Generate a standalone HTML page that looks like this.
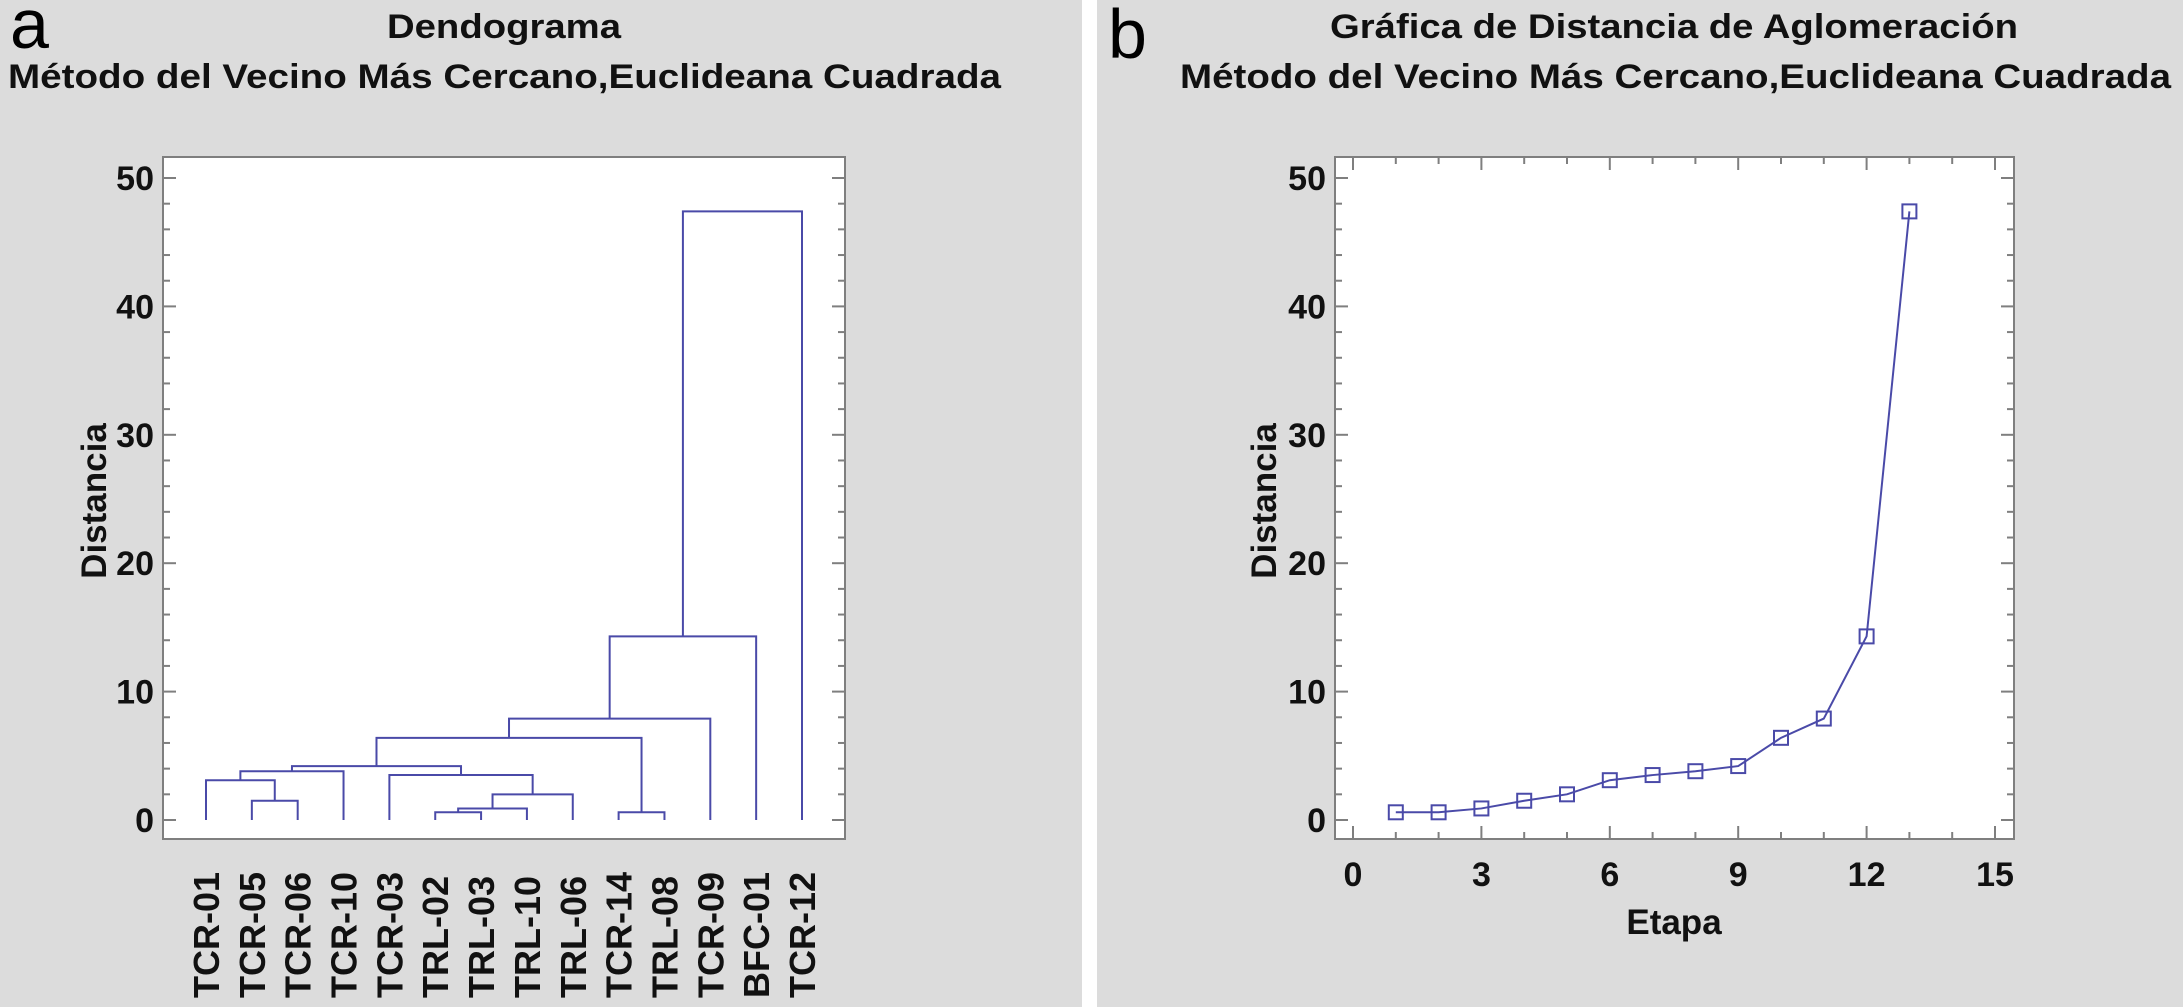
<!DOCTYPE html>
<html><head><meta charset="utf-8"><style>
html,body{margin:0;padding:0;background:#dcdcdc;}
svg{display:block;font-family:"Liberation Sans",sans-serif;}
</style></head><body>
<svg id="fig" width="2183" height="1007" viewBox="0 0 2183 1007" xmlns="http://www.w3.org/2000/svg">
<rect x="0" y="0" width="2183" height="1007" fill="#dcdcdc"/>
<rect x="1082" y="0" width="15" height="1007" fill="#ffffff"/>
<g id="pa"></g>
<g id="pb"></g>
</svg>
<script>
// ---- data ----
const leafLabels = ["TCR-01","TCR-05","TCR-06","TCR-10","TCR-03","TRL-02","TRL-03","TRL-10","TRL-06","TCR-14","TRL-08","TCR-09","BFC-01","TCR-12"];
// merges: children as "L<i>" for leaf, "N<j>" for earlier merge
const mergeLeft  = ["L5","L9","N0","L1","N2","L0","L4","N5","N7","N8","N9","N10","N11"];
const mergeRight = ["L6","L10","L7","L2","L8","N3","N4","L3","N6","N1","L11","L12","L13"];
const mergeHeight = [0.6,0.6,0.9,1.5,2.0,3.1,3.5,3.8,4.2,6.4,7.9,14.3,47.4];
const stages = [1,2,3,4,5,6,7,8,9,10,11,12,13];
const stageDist = [0.6,0.6,0.9,1.5,2.0,3.1,3.5,3.8,4.2,6.4,7.9,14.3,47.4];
const yTicks = [0,10,20,30,40,50];
const xTicksB = [0,3,6,9,12,15];

const NS="http://www.w3.org/2000/svg";
const LINE="#4a4aa8", FRAME="#7f7f7f";
function el(parent,tag,attrs,text){const e=document.createElementNS(NS,tag);for(const k in attrs)e.setAttribute(k,attrs[k]);if(text!==undefined)e.textContent=text;parent.appendChild(e);return e;}

const y0=820, y50=178;
function Y(v){return y0+(y50-y0)*v/50;}
const FT=157, FB=839;

function frame(g,L,R){
  const f=el(g,'rect',{x:L,y:FT,width:R-L,height:FB-FT,fill:'#fff',stroke:FRAME,'stroke-width':2});
  
  
  for(let v=0;v<=50;v+=2){
    const major=v%10===0, len=major?13:7;
    const t1=el(g,'line',{x1:L,x2:L+len,y1:Y(v),y2:Y(v),stroke:FRAME,'stroke-width':2});
    
    
    const t2=el(g,'line',{x1:R,x2:R-len,y1:Y(v),y2:Y(v),stroke:FRAME,'stroke-width':2});
    
    
  }
  yTicks.forEach(v=>{
    const t=el(g,'text',{x:L-9,y:Y(v)+12,'text-anchor':'end','font-size':34,'font-weight':'bold',fill:'#111'},String(v));
    
    
  });
}
function titles(g,t1x,t1w,x1,x2,line1,letter,lx,ly){
  const a=el(g,'text',{x:t1x,y:38,'font-size':34,'font-weight':'bold',fill:'#111',textLength:t1w,lengthAdjust:'spacingAndGlyphs'},line1);
  
  
  const b=el(g,'text',{x:x1,y:88,'font-size':34,'font-weight':'bold',fill:'#111',textLength:x2-x1,lengthAdjust:'spacingAndGlyphs'},"Método del Vecino Más Cercano,Euclideana Cuadrada");
  
  
  const c=el(g,'text',{x:lx,y:ly,'font-size':70,fill:'#000'},letter);
  
  
}
function ylabel(g,cx){
  const t=el(g,'text',{x:0,y:0,transform:`translate(${cx+12},501) rotate(-90)`,'text-anchor':'middle','font-size':35,'font-weight':'bold',fill:'#111'},"Distancia");
  
  
}

// ---- panel a: dendrogram ----
(function(){
  const g=document.getElementById('pa');
  const L=163,R=845, lx0=206, lx13=802;
  function X(i){return lx0+(lx13-lx0)*i/13;}
  titles(g,387,234,8,1001,"Dendograma","a",10,48);
  frame(g,L,R);
  ylabel(g,94);
  const pos={};
  leafLabels.forEach((s,i)=>{pos['L'+i]={x:X(i),h:0};
    const t=el(g,'text',{x:0,y:0,transform:`translate(${X(i)+13},998) rotate(-90)`,'font-size':36,'font-weight':'bold',fill:'#111'},s);
    
    
  });
  mergeHeight.forEach((h,j)=>{
    const a=pos[mergeLeft[j]], b=pos[mergeRight[j]];
    const p=el(g,'path',{d:`M${a.x},${Y(a.h)}V${Y(h)}H${b.x}V${Y(b.h)}`,fill:'none',stroke:LINE,'stroke-width':2});
    
    
    pos['N'+j]={x:(a.x+b.x)/2,h:h};
  });
})();

// ---- panel b: agglomeration distance ----
(function(){
  const g=document.getElementById('pb');
  const L=1335,R=2014, x0=1353, x15=1995;
  function X(v){return x0+(x15-x0)*v/15;}
  titles(g,1330,688,1180,2171,"Gráfica de Distancia de Aglomeración","b",1108,58);
  frame(g,L,R);
  ylabel(g,1264);
  for(let v=0;v<=15;v++){
    const major=v%3===0, len=major?13:7;
    const t1=el(g,'line',{x1:X(v),x2:X(v),y1:FB,y2:FB-len,stroke:FRAME,'stroke-width':2});
    
    
    const t2=el(g,'line',{x1:X(v),x2:X(v),y1:FT,y2:FT+len,stroke:FRAME,'stroke-width':2});
    
    
  }
  xTicksB.forEach(v=>{
    const t=el(g,'text',{x:X(v),y:886,'text-anchor':'middle','font-size':34,'font-weight':'bold',fill:'#111'},String(v));
    
    
  });
  const xt=el(g,'text',{x:1674,y:934,'text-anchor':'middle','font-size':35,'font-weight':'bold',fill:'#111'},"Etapa");
  
  
  const pts=stages.map((s,i)=>X(s)+','+Y(stageDist[i])).join(' ');
  const pl=el(g,'polyline',{points:pts,fill:'none',stroke:LINE,'stroke-width':2});
  
  
  stages.forEach((s,i)=>{
    const m=el(g,'rect',{x:X(s)-7,y:Y(stageDist[i])-7,width:14,height:14,fill:'none',stroke:LINE,'stroke-width':2});
    
    
  });
})();
</script>
</body></html>
